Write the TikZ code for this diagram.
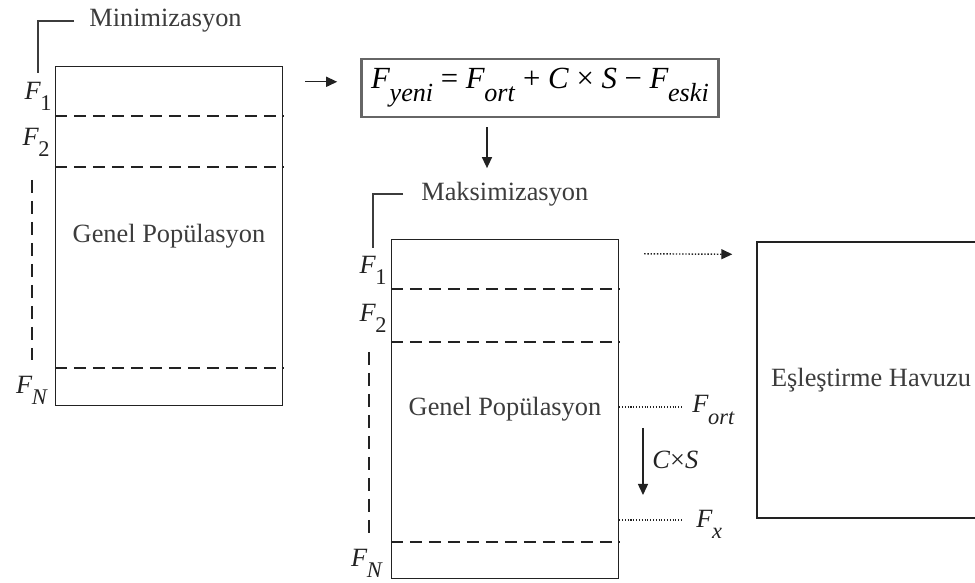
\documentclass[tikz,border=0pt]{standalone}
\usepackage{fontspec}
\setmainfont{Liberation Serif}
\usetikzlibrary{
  arrows.meta,
  positioning,
  calc
}
\definecolor{gaLine}{HTML}{222222}
\definecolor{gaText}{HTML}{3C3C3C}
\definecolor{gaFrame}{HTML}{666666}
\newcommand{\fsub}[1]{\textit{F}\kern-0.02em\raisebox{-0.42em}{\scalebox{0.85}{#1}}}
\tikzset{
  popbox/.style={
    draw=gaLine, line width=0.8pt, inner sep=0pt, text=gaText,
    minimum width=45.4mm, minimum height=67.8mm,
    font=\fontsize{15}{18}\selectfont
  },
  poolbox/.style={popbox, minimum width=45.6mm, minimum height=55.2mm},
  formbox/.style={
    draw=gaFrame, line width=1.3pt, inner sep=0pt,
    minimum width=71.4mm, minimum height=11.6mm,
    font=\fontsize{17.5}{19}\selectfont
  },
  flabel/.style={inner sep=0pt, text=gaLine, font=\fontsize{15}{18}\selectfont},
  tagtext/.style={inner sep=0pt, text=gaText, font=\fontsize{15}{18}\selectfont, anchor=west},
  divider/.style={gaLine, line width=0.8pt, dash pattern=on 2.4mm off 1.4mm},
  sidedash/.style={gaLine, line width=0.8pt, dash pattern=on 2.6mm off 1.6mm},
  leader/.style={gaText, line width=0.8pt},
  flow/.style={-{Triangle[length=2.2mm, width=2mm]}, line width=0.8pt, gaLine},
  dotflow/.style={flow, densely dotted},
  tick/.style={gaLine, line width=0.6pt, densely dotted}
}

\begin{document}
\begin{tikzpicture}[x=0.2mm, y=-0.2mm]
  \useasboundingbox (0,0) rectangle (975,583);

  % minimisation population
  \node[popbox] (pop1) at (169,236) {Genel Popülasyon};
  \foreach \d in {116,167,368}
    \draw[divider] (pop1.west |- 0,\d) -- (pop1.east |- 0,\d);
  \node[flabel] (f1a) at (38,96) {\fsub{1}};
  \node[flabel] (f2a) at (36,142) {\fsub{2}};
  \node[flabel] (fna) at (32,390) {\fsub{\textit{N}}};
  \node[tagtext] (mintag) at (89,21) {Minimizasyon};
  \draw[leader] ([xshift=-3mm]mintag.west) -| ([yshift=1.6mm]f1a.north);
  \draw[sidedash] (32,180) -- (32,360);

  % update rule
  \node[formbox] (form) at (540,88)
    {\fsub{\textit{yeni}} = \fsub{\textit{ort}} + \textit{C} × \textit{S} − \fsub{\textit{eski}}};
  \draw[flow] ([shift={(4.4mm,-3.2mm)}]pop1.north east) -- ++(6.4mm,0);
  \draw[flow] ([shift={(-10.6mm,-1.8mm)}]form.south) -- ++(0,-8.2mm);

  % maximisation population
  \node[popbox] (pop2) at (505,409) {Genel Popülasyon};
  \foreach \d in {289,342,542}
    \draw[divider] (pop2.west |- 0,\d) -- (pop2.east |- 0,\d);
  \node[flabel] (f1b) at (373,270) {\fsub{1}};
  \node[flabel] (f2b) at (373,318) {\fsub{2}};
  \node[flabel] (fnb) at (367,563) {\fsub{\textit{N}}};
  \node[tagtext] (maxtag) at (421,194) {Maksimizasyon};
  \draw[leader] ([xshift=-3.6mm]maxtag.west) -| ([yshift=1.4mm]f1b.north);
  \draw[sidedash] (369,352) -- (369,537);

  % mating pool
  \node[poolbox] (pool) at (871,380) {Eşleştirme Havuzu};
  \draw[dotflow] ([shift={(5mm,-3mm)}]pop2.north east) -- ([shift={(-4.8mm,-2.6mm)}]pool.north west);

  % F_ort, C x S, F_x
  \node[flabel, anchor=west] (fort) at (692,410) {\fsub{\textit{ort}}};
  \node[flabel, anchor=west] (fx) at (696,524) {\fsub{\textit{x}}};
  \node[flabel, anchor=west] (cs) at (652,460) {\textit{C}×\textit{S}};
  \draw[tick] (pop2.east |- 0,407) -- ([xshift=-2mm]fort.west |- 0,407);
  \draw[tick] (pop2.east |- 0,520) -- ([xshift=-2.8mm]fx.west |- 0,520);
  \draw[flow] ([shift={(-1.8mm,6.4mm)}]cs.west) -- ([shift={(-1.8mm,-7mm)}]cs.west);
\end{tikzpicture}
\end{document}
